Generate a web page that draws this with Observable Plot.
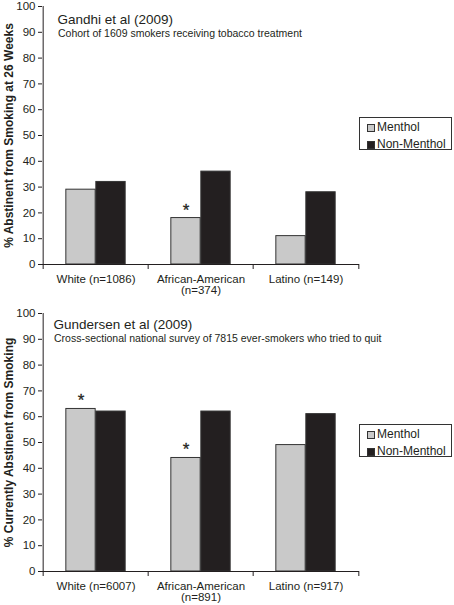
<!DOCTYPE html>
<html><head><meta charset="utf-8">
<script src="https://cdn.jsdelivr.net/npm/d3@7"></script>
<script src="https://cdn.jsdelivr.net/npm/@observablehq/plot@0.6"></script>
<style>
html,body{margin:0;padding:0;background:#fff;}
body{font-family:"Liberation Sans",Arial,sans-serif;color:#231f20;}
.panel{position:relative;width:454px;}
.panel svg{display:block;}
.legend{position:absolute;left:359px;width:93px;height:33px;border:1px solid #333;background:#fff;font-size:12px;box-sizing:border-box;}
.legend .row{position:absolute;left:7px;height:14px;line-height:14px;white-space:nowrap;}
.legend .sw{display:inline-block;width:8px;height:8px;border:1px solid #333;box-sizing:border-box;margin-right:2px;vertical-align:-0.5px;}
</style></head><body><div id="chart"></div>
<script>
const groups = ["White", "African-American", "Latino"];
const types = ["Menthol", "Non-Menthol"];
const yTicks = [0, 10, 20, 30, 40, 50, 60, 70, 80, 90, 100];

const gandhiTitle = "Gandhi et al (2009)";
const gandhiSubtitle = "Cohort of 1609 smokers receiving tobacco treatment";
const gandhiYLabel = "% Abstinent from Smoking at 26 Weeks";
const gandhiN = ["1086", "374", "149"];
const gandhiMenthol = [29, 18, 11];
const gandhiNonMenthol = [32, 36, 28];
const gandhiStar = [false, true, false];

const gundersenTitle = "Gundersen et al (2009)";
const gundersenSubtitle = "Cross-sectional national survey of 7815 ever-smokers who tried to quit";
const gundersenYLabel = "% Currently Abstinent from Smoking";
const gundersenN = ["6007", "891", "917"];
const gundersenMenthol = [63, 44, 49];
const gundersenNonMenthol = [62, 62, 61];
const gundersenStar = [true, true, false];

const colors = ["#c9c9c9", "#231f20"];

function panel(o) {
  const cats = groups.map((g, i) => g === "African-American" ? `${g}\n(n=${o.n[i]})` : `${g} (n=${o.n[i]})`);
  const menthol = cats.map((c, i) => ({cat: c, v: o.menthol[i], star: o.star[i]}));
  const nonMenthol = cats.map((c, i) => ({cat: c, v: o.nonMenthol[i]}));
  const marginLeft = 42, marginRight = 95;
  const bw = (454 - marginLeft - marginRight) / cats.length;
  const barW = 30;
  const fontFamily = '"Liberation Sans", Arial, sans-serif';
  const svg = Plot.plot({
    width: 454,
    height: o.height,
    marginLeft, marginRight,
    marginTop: o.marginTop,
    marginBottom: o.marginBottom,
    style: {fontFamily, fontSize: "11.5px", color: "#231f20", background: "#fff", overflow: "visible"},
    x: {domain: cats, padding: 0, label: null},
    y: {domain: [0, 100], label: null},
    marks: [
      Plot.barY(menthol, {x: "cat", y: "v", fill: colors[0], stroke: "#333", strokeWidth: 1, insetLeft: bw / 2 - barW, insetRight: bw / 2}),
      Plot.barY(nonMenthol, {x: "cat", y: "v", fill: colors[1], stroke: "#333", strokeWidth: 1, insetLeft: bw / 2, insetRight: bw / 2 - barW}),
      Plot.ruleY([0], {stroke: "#231f20"}),
      Plot.ruleX([cats[0]], {x: d => d, dx: -bw / 2, y1: 0, y2: 100, stroke: "#231f20"}),
      Plot.ruleX(cats, {x: d => d, dx: -bw / 2, y1: 0, y2: 0, insetTop: 0, insetBottom: -5, stroke: "#231f20"}),
      Plot.ruleX([cats[cats.length - 1]], {x: d => d, dx: bw / 2, y1: 0, y2: 0, insetTop: 0, insetBottom: -5, stroke: "#231f20"}),
      Plot.axisY({ticks: yTicks, tickSize: 4, tickPadding: 3, fontSize: 11.5, label: null}),
      Plot.axisX({tickSize: 0, tickPadding: 10, fontSize: 11.5, label: null}),
      Plot.text(menthol.filter(d => d.star), {x: "cat", y: "v", text: () => "*", dx: -barW / 2, dy: -8, fontSize: 17, fill: "#231f20", stroke: "#231f20", strokeWidth: 0.3}),
      Plot.text([o.ylabel], {frameAnchor: "left", textAnchor: "middle", rotate: -90, dx: -33, fontWeight: "bold", fontSize: 12, fill: "#231f20"}),
      Plot.text([o.title], {frameAnchor: "top-left", textAnchor: "start", dx: o.titleDx, dy: o.titleDy, fontSize: 13.5, fill: "#231f20"}),
      Plot.text([o.subtitle], {frameAnchor: "top-left", textAnchor: "start", dx: o.titleDx + 0.5, dy: o.titleDy + 15.5, fontSize: 10.5, fill: "#231f20"})
    ]
  });
  const div = document.createElement("div");
  div.className = "panel";
  div.appendChild(svg);
  const leg = document.createElement("div");
  leg.className = "legend";
  leg.style.top = o.legendTop + "px";
  types.forEach((t, i) => {
    const row = document.createElement("div");
    row.className = "row";
    row.style.top = (2 + i * 17) + "px";
    const sw = document.createElement("span");
    sw.className = "sw";
    sw.style.background = colors[i];
    row.appendChild(sw);
    row.appendChild(document.createTextNode(t));
    leg.appendChild(row);
  });
  div.appendChild(leg);
  return div;
}

const root = document.getElementById("chart");
root.appendChild(panel({
  title: gandhiTitle, subtitle: gandhiSubtitle, ylabel: gandhiYLabel,
  n: gandhiN, menthol: gandhiMenthol, nonMenthol: gandhiNonMenthol, star: gandhiStar,
  height: 300, marginTop: 6, marginBottom: 36, titleDx: 15, titleDy: 8, legendTop: 117
}));
root.appendChild(panel({
  title: gundersenTitle, subtitle: gundersenSubtitle, ylabel: gundersenYLabel,
  n: gundersenN, menthol: gundersenMenthol, nonMenthol: gundersenNonMenthol, star: gundersenStar,
  height: 305, marginTop: 13, marginBottom: 34, titleDx: 11, titleDy: 6, legendTop: 124
}));
</script></body></html>
